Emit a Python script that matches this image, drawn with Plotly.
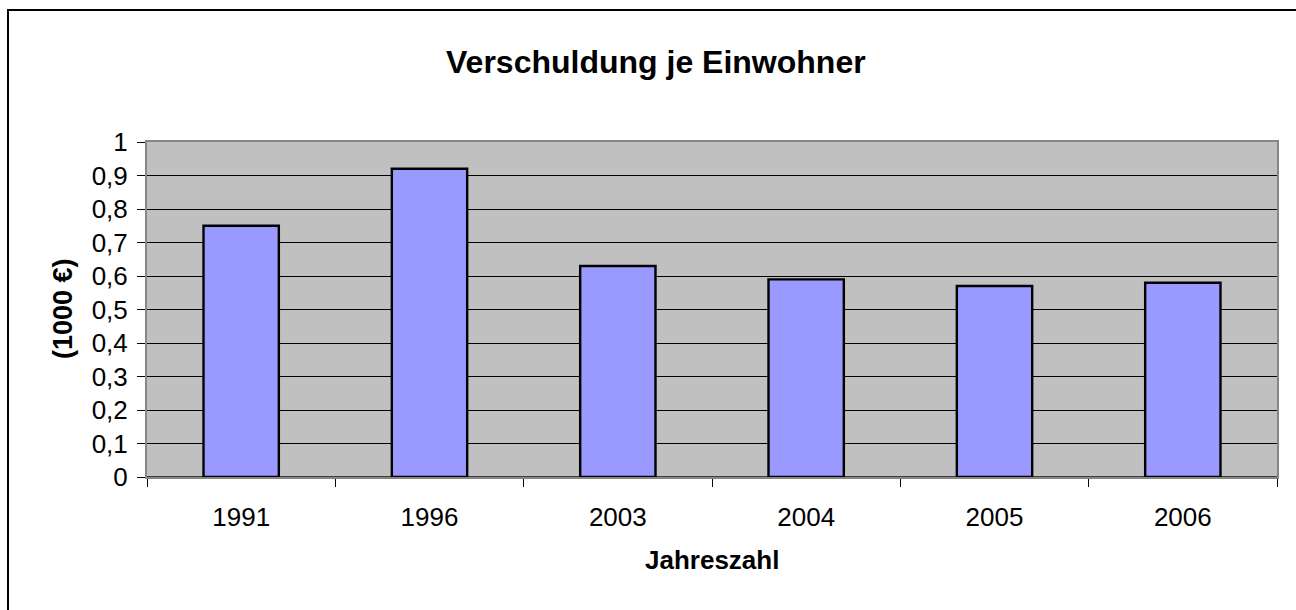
import plotly.graph_objects as go

years = ["1991", "1996", "2003", "2004", "2005", "2006"]
debt = [0.75, 0.92, 0.63, 0.59, 0.57, 0.58]
y_ticks = [0, 0.1, 0.2, 0.3, 0.4, 0.5, 0.6, 0.7, 0.8, 0.9, 1]

title_text = "Verschuldung je Einwohner"
x_title = "Jahreszahl"
y_title = "(1000 €)"

W, H = 1296, 610
L, R, T, B = 147, 19, 142, 133
pw, ph = W - L - R, H - T - B

def px_x(p):
    return (p - L) / pw

def px_y(p):
    return (H - B - p) / ph

FONT = "Liberation Sans, Arial, sans-serif"

fig = go.Figure(
    go.Bar(
        x=years,
        y=debt,
        width=0.4,
        marker=dict(color="#9999FF", line=dict(color="#000000", width=2.4)),
        hoverinfo="x+y",
    )
)

fig.update_layout(
    width=W,
    height=H,
    margin=dict(l=L, r=R, t=T, b=B, pad=0),
    paper_bgcolor="#FFFFFF",
    plot_bgcolor="#C0C0C0",
    separators=",.",
    showlegend=False,
    font=dict(family=FONT, color="#000000", size=26),
    shapes=[
        dict(type="rect", xref="paper", yref="paper",
             x0=px_x(8), x1=px_x(1310), y0=px_y(620), y1=px_y(10),
             line=dict(color="#000000", width=2), fillcolor="rgba(0,0,0,0)",
             layer="below"),
    ],
    annotations=[
        dict(text="<b>" + title_text + "</b>", xref="paper", yref="paper",
             x=px_x(656), y=px_y(62), xanchor="center", yanchor="middle",
             showarrow=False, font=dict(size=32, family=FONT)),
        dict(text="<b>" + x_title + "</b>", xref="paper", yref="paper",
             x=px_x(712), y=px_y(560), xanchor="center", yanchor="middle",
             showarrow=False, font=dict(size=26, family=FONT)),
        dict(text="<b>" + y_title + "</b>", xref="paper", yref="paper",
             x=px_x(63), y=px_y(309), xanchor="center", yanchor="middle",
             textangle=-90, showarrow=False, font=dict(size=27, family=FONT)),
    ],
)

fig.update_xaxes(
    type="category",
    range=[-0.5, 5.5],
    tickson="boundaries",
    ticks="outside",
    ticklen=8,
    tickwidth=1,
    tickcolor="#000000",
    showgrid=False,
    showline=True,
    linecolor="#868686",
    linewidth=2,
    mirror=True,
    ticklabelstandoff=16,
    tickfont=dict(size=26, family=FONT),
)

fig.update_yaxes(
    range=[0, 1],
    tickvals=y_ticks,
    ticks="outside",
    ticklen=8,
    tickwidth=1,
    tickcolor="#000000",
    showgrid=True,
    gridcolor="#000000",
    gridwidth=1,
    zeroline=True,
    zerolinecolor="#404040",
    zerolinewidth=2,
    showline=True,
    linecolor="#868686",
    linewidth=2,
    mirror=True,
    ticklabelstandoff=4,
    tickfont=dict(size=26, family=FONT),
)

fig.write_html(
    "out.html",
    config={"displayModeBar": False},
    post_script="document.body.style.margin='0px';document.body.style.padding='0px';",
)
